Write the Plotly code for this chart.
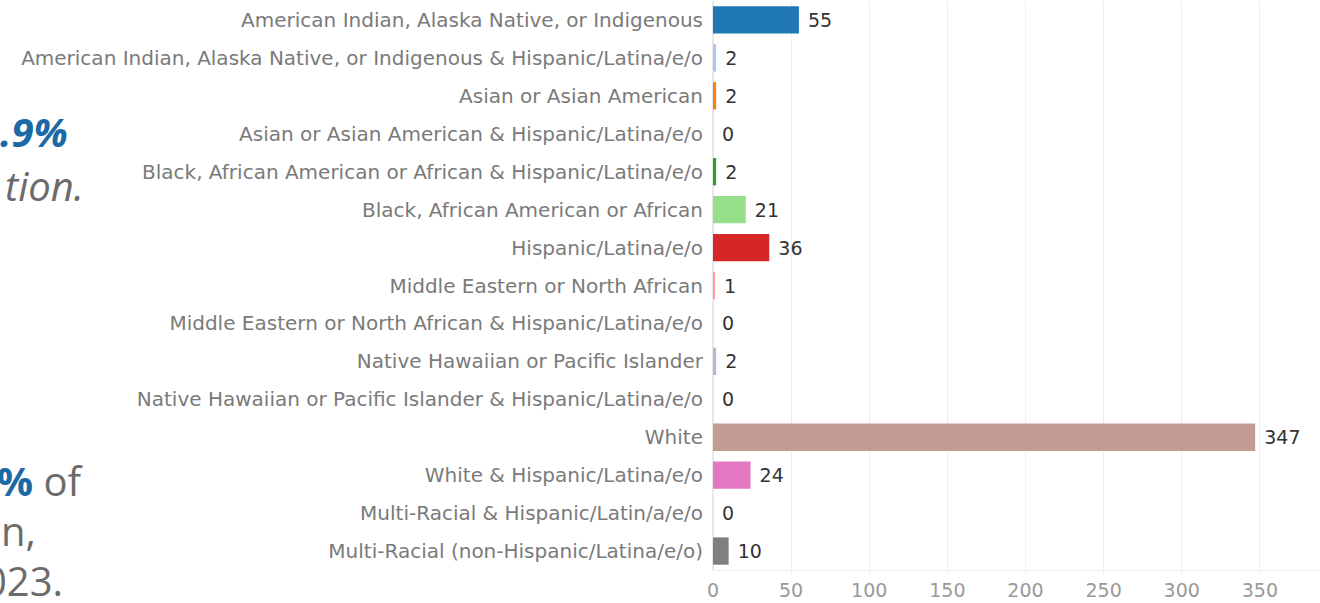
import plotly.graph_objects as go

categories = [
    "American Indian, Alaska Native, or Indigenous",
    "American Indian, Alaska Native, or Indigenous & Hispanic/Latina/e/o",
    "Asian or Asian American",
    "Asian or Asian American & Hispanic/Latina/e/o",
    "Black, African American or African & Hispanic/Latina/e/o",
    "Black, African American or African",
    "Hispanic/Latina/e/o",
    "Middle Eastern or North African",
    "Middle Eastern or North African & Hispanic/Latina/e/o",
    "Native Hawaiian or Pacific Islander",
    "Native Hawaiian or Pacific Islander & Hispanic/Latina/e/o",
    "White",
    "White & Hispanic/Latina/e/o",
    "Multi-Racial & Hispanic/Latin/a/e/o",
    "Multi-Racial (non-Hispanic/Latina/e/o)",
]
values = [55, 2, 2, 0, 2, 21, 36, 1, 0, 2, 0, 347, 24, 0, 10]
colors = ["#1f77b4", "#aec7e8", "#ff7f0e", "#ffbb78", "#2ca02c", "#98df8a",
          "#d62728", "#ff9896", "#9467bd", "#c5b0d5", "#8c564b", "#c49c94",
          "#e377c2", "#f7b6d2", "#7f7f7f"]
x_ticks = [0, 50, 100, 150, 200, 250, 300, 350]

W, H = 1320, 603
ML, MR, MT, MB = 713, 0, 1, 33
PW = W - ML - MR
PH = H - MT - MB
FONT = "DejaVu Sans"

fig = go.Figure(go.Bar(
    x=values, y=categories, orientation="h",
    marker=dict(color=colors, line=dict(width=0)),
    width=0.72,
    text=[" " + str(v) for v in values], textposition="outside",
    textfont=dict(family=FONT, size=19, color="#333333"),
    cliponaxis=False,
))

fig.update_yaxes(autorange="reversed", showgrid=False, zeroline=False,
                 tickfont=dict(family=FONT, size=20, color="#7a7a7a"),
                 ticklabelstandoff=9, showline=False, automargin=False)
fig.update_xaxes(range=[0, 388.5], tickvals=x_ticks, showgrid=True,
                 gridcolor="#efefef", gridwidth=1, zeroline=True,
                 zerolinecolor="#e8e8e8", showline=True, linecolor="#efefef",
                 ticks="outside", ticklen=3, tickcolor="#efefef",
                 tickfont=dict(family=FONT, size=19, color="#999999"),
                 ticklabelstandoff=0, automargin=False)


def px(xp):
    return (xp - ML) / PW


def py(yp):
    return 1 - (yp - MT) / PH


BLUE = "#1b6aa5"
GREY = "#6b6b6b"
side = [
    ("<b><i>.9%</i></b>", 70, 131, BLUE),
    ("<i>tion.</i>", 86, 185, GREY),
    ("<b><span style='color:" + BLUE + "'>%</span></b> of", 86, 480, GREY),
    ("n,", 38, 530, GREY),
    ("023.", 65, 580, GREY),
]
for t, xr, yc, col in side:
    fig.add_annotation(text=t, x=px(xr), y=py(yc), xref="paper", yref="paper",
                       xanchor="right", yanchor="middle", showarrow=False,
                       font=dict(family="Open Sans", size=40, color=col))

fig.update_layout(width=W, height=H, margin=dict(l=ML, r=MR, t=MT, b=MB),
                  plot_bgcolor="white", paper_bgcolor="white", showlegend=False)
fig.write_html("out.html", config={"displayModeBar": False},
               post_script="document.body.style.margin='0';document.body.style.overflow='hidden';")
